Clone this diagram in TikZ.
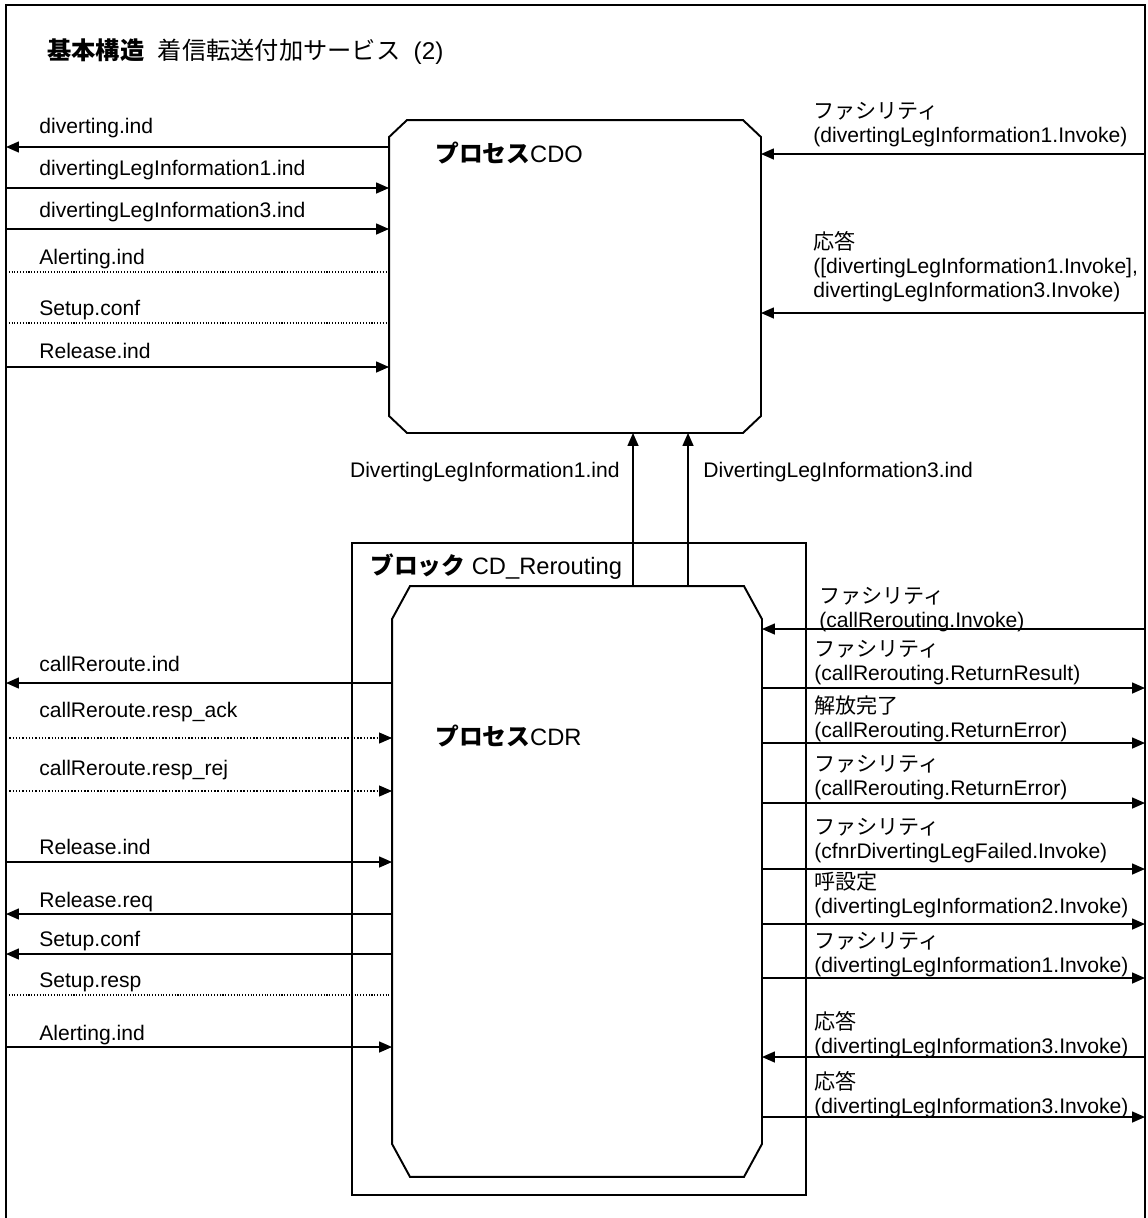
\documentclass[tikz,border=0pt]{standalone}
\usepackage{fontspec}
\setmainfont{Liberation Sans}
\newfontfamily\jp{Noto Sans CJK JP}
\usepackage{tikz}
\usetikzlibrary{arrows.meta, positioning}
\tikzset{
  proc/.style={rectangle, inner sep=0pt, outer sep=0pt},
  procline/.style={line width=1.1pt, line join=miter},
  blk/.style={rectangle, draw, line width=0.75pt, inner sep=0pt},
  msg/.style={anchor=base west, inner sep=0pt, align=left,
              font=\fontsize{12}{13.5}\selectfont},
  head/.style={anchor=base west, inner sep=0pt,
               font=\fontsize{13.5}{16}\selectfont},
  sig/.style={-{Triangle[length=0.26cm, width=0.22cm]}, line width=0.85pt},
  dsig/.style={sig, densely dotted, line width=0.6pt},
  dline/.style={densely dotted, line width=0.6pt}
}

\begin{document}
\begin{tikzpicture}[x=0.02cm, y=-0.02cm]
  \useasboundingbox (0,0) rectangle (1147,1218);

  % outer frame
  \draw[line width=0.85pt] (6,1225) -- (6,5) -- (1145,5) -- (1145,1225);
  \node[head, font=\fontsize{13.8}{16}\selectfont] (title) at (47,59)
    {{\jp\bfseries 基本構造}\ \ {\jp 着信転送付加サービス}\ \ (2)};

  % process CDO
  \node[proc, minimum width=7.44cm, minimum height=6.26cm] (cdo) at (575,276.5) {};
  \draw[procline] ([xshift=0.36cm]cdo.north west) -- ([xshift=-0.36cm]cdo.north east)
    -- ([yshift=-0.34cm]cdo.north east) -- ([yshift=0.34cm]cdo.south east)
    -- ([xshift=-0.36cm]cdo.south east) -- ([xshift=0.36cm]cdo.south west)
    -- ([yshift=0.34cm]cdo.south west) -- ([yshift=-0.34cm]cdo.north west) -- cycle;
  \node[head] (cdoname) at (435,162) {{\jp\bfseries プロセス}CDO};

  % block CD_Rerouting
  \node[blk, minimum width=9.08cm, minimum height=13.04cm] (blk) at (579,869) {};
  \node[head] (blkname) at (370,574) {{\jp\bfseries ブロック} CD\_Rerouting};

  % process CDR
  \node[proc, minimum width=7.4cm, minimum height=11.82cm] (cdr) at (577,881.5) {};
  \draw[procline] ([xshift=0.36cm]cdr.north west) -- ([xshift=-0.36cm]cdr.north east)
    -- ([yshift=-0.66cm]cdr.north east) -- ([yshift=0.66cm]cdr.south east)
    -- ([xshift=-0.36cm]cdr.south east) -- ([xshift=0.36cm]cdr.south west)
    -- ([yshift=0.66cm]cdr.south west) -- ([yshift=-0.66cm]cdr.north west) -- cycle;
  \node[head] (cdrname) at (435,745) {{\jp\bfseries プロセス}CDR};

  % frame ends of the signals, CDO side
  \coordinate (a1) at (6,147);
  \coordinate (a2) at (6,188);
  \coordinate (a3) at (6,229);
  \coordinate (a4) at (6,272);
  \coordinate (a5) at (6,323);
  \coordinate (a6) at (6,367);
  \coordinate (b1) at (1145,154);
  \coordinate (b2) at (1145,313);

  % CDO, left
  \node[msg] (a1l) at (39,133) {diverting.ind};
  \node[msg] (a2l) at (39,175) {divertingLegInformation1.ind};
  \node[msg] (a3l) at (39,217) {divertingLegInformation3.ind};
  \node[msg] (a4l) at (39,264) {Alerting.ind};
  \node[msg] (a5l) at (39,315) {Setup.conf};
  \node[msg] (a6l) at (39,358) {Release.ind};
  \draw[sig]   (cdo.west |- a1) -- (a1);
  \draw[sig]   (a2) -- (cdo.west |- a2);
  \draw[sig]   (a3) -- (cdo.west |- a3);
  \draw[dline] (a4) -- (cdo.west |- a4);
  \draw[dline] (a5) -- (cdo.west |- a5);
  \draw[sig]   (a6) -- (cdo.west |- a6);

  % CDO, right
  \node[msg] (b1l) at (813,142) {{\jp ファシリティ}\\(divertingLegInformation1.Invoke)};
  \node[msg] (b2l) at (813,297)
    {{\jp 応答}\\([divertingLegInformation1.Invoke],\\divertingLegInformation3.Invoke)};
  \draw[sig] (b1) -- (cdo.east |- b1);
  \draw[sig] (b2) -- (cdo.east |- b2);

  % CDR to CDO
  \coordinate (u1) at (633,500);
  \coordinate (u2) at (688,500);
  \draw[sig] (cdr.north -| u1) -- (cdo.south -| u1);
  \draw[sig] (cdr.north -| u2) -- (cdo.south -| u2);
  \node[msg, anchor=base east] (u1l) at (620,477) {DivertingLegInformation1.ind};
  \node[msg] (u2l) at (703,477) {DivertingLegInformation3.ind};

  % frame ends of the signals, CDR side
  \coordinate (c1) at (6,683);
  \coordinate (c2) at (6,738);
  \coordinate (c3) at (6,791);
  \coordinate (c4) at (6,862);
  \coordinate (c5) at (6,914);
  \coordinate (c6) at (6,954);
  \coordinate (c7) at (6,995);
  \coordinate (c8) at (6,1047);
  \coordinate (d1) at (1145,629);
  \coordinate (d2) at (1145,688);
  \coordinate (d3) at (1145,743);
  \coordinate (d4) at (1145,803);
  \coordinate (d5) at (1145,869);
  \coordinate (d6) at (1145,924);
  \coordinate (d7) at (1145,978);
  \coordinate (d8) at (1145,1057);
  \coordinate (d9) at (1145,1117);

  % CDR, left
  \node[msg] (c1l) at (39,671) {callReroute.ind};
  \node[msg] (c2l) at (39,717) {callReroute.resp\_ack};
  \node[msg] (c3l) at (39,775) {callReroute.resp\_rej};
  \node[msg] (c4l) at (39,854) {Release.ind};
  \node[msg] (c5l) at (39,907) {Release.req};
  \node[msg] (c6l) at (39,946) {Setup.conf};
  \node[msg] (c7l) at (39,987) {Setup.resp};
  \node[msg] (c8l) at (39,1040) {Alerting.ind};
  \draw[sig]   (cdr.west |- c1) -- (c1);
  \draw[dsig]  (c2) -- (cdr.west |- c2);
  \draw[dsig]  (c3) -- (cdr.west |- c3);
  \draw[sig]   (c4) -- (cdr.west |- c4);
  \draw[sig]   (cdr.west |- c5) -- (c5);
  \draw[sig]   (cdr.west |- c6) -- (c6);
  \draw[dline] (c7) -- (cdr.west |- c7);
  \draw[sig]   (c8) -- (cdr.west |- c8);

  % CDR, right
  \node[msg] (d1l) at (819,627) {{\jp ファシリティ}\\(callRerouting.Invoke)};
  \node[msg] (d2l) at (814,680) {{\jp ファシリティ}\\(callRerouting.ReturnResult)};
  \node[msg] (d3l) at (814,737) {{\jp 解放完了}\\(callRerouting.ReturnError)};
  \node[msg] (d4l) at (814,795) {{\jp ファシリティ}\\(callRerouting.ReturnError)};
  \node[msg] (d5l) at (814,858) {{\jp ファシリティ}\\(cfnrDivertingLegFailed.Invoke)};
  \node[msg] (d6l) at (814,913) {{\jp 呼設定}\\(divertingLegInformation2.Invoke)};
  \node[msg] (d7l) at (814,972) {{\jp ファシリティ}\\(divertingLegInformation1.Invoke)};
  \node[msg] (d8l) at (814,1053) {{\jp 応答}\\(divertingLegInformation3.Invoke)};
  \node[msg] (d9l) at (814,1113) {{\jp 応答}\\(divertingLegInformation3.Invoke)};
  \draw[sig] (d1) -- (cdr.east |- d1);
  \draw[sig] (cdr.east |- d2) -- (d2);
  \draw[sig] (cdr.east |- d3) -- (d3);
  \draw[sig] (cdr.east |- d4) -- (d4);
  \draw[sig] (cdr.east |- d5) -- (d5);
  \draw[sig] (cdr.east |- d6) -- (d6);
  \draw[sig] (cdr.east |- d7) -- (d7);
  \draw[sig] (d8) -- (cdr.east |- d8);
  \draw[sig] (cdr.east |- d9) -- (d9);

\end{tikzpicture}
\end{document}
